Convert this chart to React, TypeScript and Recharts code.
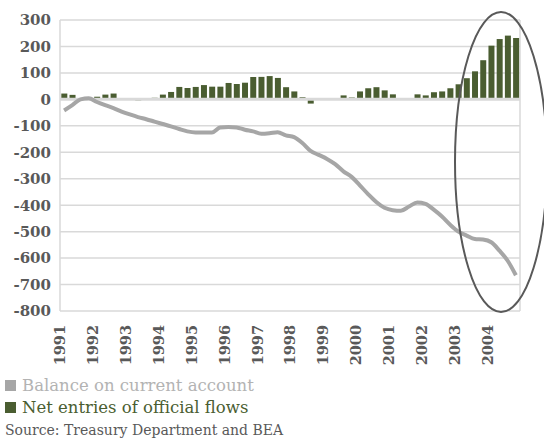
import React from 'react';
import { ComposedChart, Bar, Line, XAxis, YAxis, CartesianGrid, ReferenceLine } from 'recharts';

const quarters = [
  '1991Q1','1991Q2','1991Q3','1991Q4','1992Q1','1992Q2','1992Q3','1992Q4',
  '1993Q1','1993Q2','1993Q3','1993Q4','1994Q1','1994Q2','1994Q3','1994Q4',
  '1995Q1','1995Q2','1995Q3','1995Q4','1996Q1','1996Q2','1996Q3','1996Q4',
  '1997Q1','1997Q2','1997Q3','1997Q4','1998Q1','1998Q2','1998Q3','1998Q4',
  '1999Q1','1999Q2','1999Q3','1999Q4','2000Q1','2000Q2','2000Q3','2000Q4',
  '2001Q1','2001Q2','2001Q3','2001Q4','2002Q1','2002Q2','2002Q3','2002Q4',
  '2003Q1','2003Q2','2003Q3','2003Q4','2004Q1','2004Q2','2004Q3','2004Q4',
];

const officialFlows = [
  22, 17, 5, 2, 10, 18, 22, 5, 0, -4,
  0, 6, 18, 28, 47, 43, 47, 54, 48, 48,
  62, 58, 63, 85, 85, 88, 81, 46, 30, 8,
  -16, 0, 0, 0, 15, 7, 30, 42, 46, 34,
  19, 4, 4, 19, 15, 27, 30, 42, 57, 80,
  106, 148, 203, 228, 241, 232,
];

const currentAccount = [
  -42, -22, 0, 4, -10, -22, -33, -46, -57, -67,
  -75, -84, -93, -102, -112, -121, -125, -125, -125, -106,
  -104, -106, -115, -121, -130, -128, -124, -136, -143, -165,
  -195, -210, -225, -245, -272, -293, -325, -358, -388, -410,
  -419, -421, -405, -390, -395, -417, -443, -474, -500, -515,
  -528, -530, -540, -572, -610, -665,
];

const yTicks = [300, 200, 100, 0, -100, -200, -300, -400, -500, -600, -700, -800];

const seriesNames = ['Balance on current account', 'Net entries of official flows'];
const sourceText = 'Source: Treasury Department and BEA';

const data = quarters.map((q, i) => ({ q, flows: officialFlows[i], balance: currentAccount[i] }));

const FONT = '"DejaVu Serif", serif';
const GREEN = '#4a5d31';
const LINE_GRAY = '#a6a6a6';
const AXIS_TEXT = '#595959';

const yearLabel = (v: any) => {
  const s = String(v);
  return s.endsWith('Q1') ? s.slice(0, 4) : '';
};

export default function App() {
  return (
    <div style={{ position: 'absolute', left: 0, top: 0, width: 544, height: 441, background: '#fff', overflow: 'hidden' }}>
      <ComposedChart
        width={544}
        height={370}
        data={data}
        margin={{ top: 20, right: 24, left: 0, bottom: 4 }}
        barCategoryGap="16%"
      >
        <CartesianGrid
          stroke="#d9d9d9"
          strokeWidth={1.5}
          verticalCoordinatesGenerator={({ offset }: any) => [offset.left + offset.width]}
        />
        <XAxis
          dataKey="q"
          interval={0}
          angle={-90}
          textAnchor="end"
          tickFormatter={yearLabel}
          tick={{ fontFamily: FONT, fontWeight: 'bold', fontSize: 14.5, fill: AXIS_TEXT, dx: -9 }}
          tickLine={false}
          axisLine={false}
          tickSize={0}
          tickMargin={14}
          height={55}
        />
        <YAxis
          domain={[-800, 300]}
          ticks={yTicks}
          interval={0}
          width={60}
          tickLine={false}
          tickSize={0}
          tickMargin={9}
          axisLine={{ stroke: '#d9d9d9', strokeWidth: 1.5 }}
          tick={{ fontFamily: FONT, fontWeight: 'bold', fontSize: 15, fill: AXIS_TEXT }}
        />
        <ReferenceLine y={0} stroke="#d9d9d9" strokeWidth={3} />
        <Bar dataKey="flows" fill={GREEN} isAnimationActive={false} />
        <Line
          dataKey="balance"
          type="monotone"
          stroke={LINE_GRAY}
          strokeWidth={4}
          dot={false}
          isAnimationActive={false}
        />
      </ComposedChart>
      <svg width={544} height={441} style={{ position: 'absolute', left: 0, top: 0, pointerEvents: 'none' }}>
        <ellipse cx={501} cy={162} rx={46} ry={150} fill="none" stroke="#595959" strokeWidth={2} />
      </svg>
      <div style={{ position: 'absolute', left: 5, top: 375, fontFamily: FONT, fontSize: 16.5, lineHeight: '22px', color: '#b3b3b3', whiteSpace: 'nowrap' }}>
        <span style={{ display: 'inline-block', width: 11, height: 11, background: LINE_GRAY, marginRight: 6 }} />
        {seriesNames[0]}
      </div>
      <div style={{ position: 'absolute', left: 5, top: 397, fontFamily: FONT, fontSize: 16.5, lineHeight: '22px', color: GREEN, whiteSpace: 'nowrap' }}>
        <span style={{ display: 'inline-block', width: 11, height: 11, background: GREEN, marginRight: 6 }} />
        {seriesNames[1]}
      </div>
      <div style={{ position: 'absolute', left: 5, top: 420, fontFamily: FONT, fontSize: 14, lineHeight: '20px', color: AXIS_TEXT, whiteSpace: 'nowrap' }}>
        {sourceText}
      </div>
    </div>
  );
}
